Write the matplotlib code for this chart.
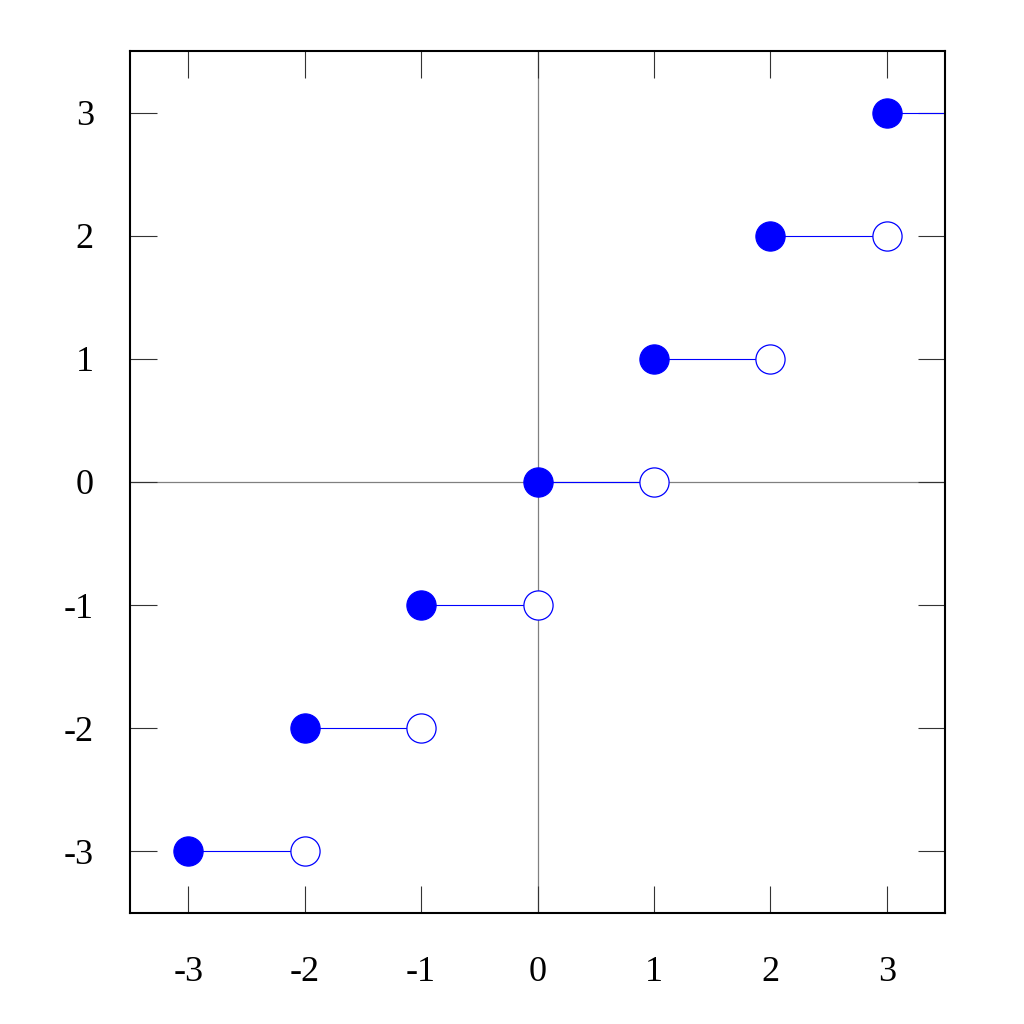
import matplotlib
matplotlib.use("Agg")
import matplotlib.pyplot as plt
import numpy as np

# Floor function steps
step_starts = [-3, -2, -1, 0, 1, 2, 3]
step_ends = [-2, -1, 0, 1, 2, 3, 4]
step_values = [-3, -2, -1, 0, 1, 2, 3]
x_ticks = [-3, -2, -1, 0, 1, 2, 3]
y_ticks = [-3, -2, -1, 0, 1, 2, 3]

plt.rcParams['font.family'] = ['Liberation Serif', 'DejaVu Serif']

fig = plt.figure(figsize=(10.24, 10.24), dpi=100)
ax = fig.add_axes([130/1024, 1 - 913/1024, (945 - 130)/1024, (913 - 51)/1024])
ax.set_xlim(-3.5, 3.5)
ax.set_ylim(-3.5, 3.5)

ax.axhline(0, color='#808080', lw=0.9, zorder=1)
ax.axvline(0, color='#808080', lw=0.9, zorder=1)

blue = '#0000ff'
for xs, xe, v in zip(step_starts, step_ends, step_values):
    ax.plot([xs, xe], [v, v], color=blue, lw=0.8, zorder=2)
    ax.plot([xe], [v], marker='o', ms=21, mfc='white', mec=blue, mew=0.9,
            zorder=3, clip_on=True)
    ax.plot([xs], [v], marker='o', ms=21, mfc=blue, mec=blue, mew=0.9,
            zorder=4, clip_on=False)

ax.set_xticks(x_ticks)
ax.set_yticks(y_ticks)
ax.set_xticklabels([str(t) for t in x_ticks])
ax.set_yticklabels([str(t) for t in y_ticks])
ax.tick_params(axis='both', which='major', direction='in', length=19.5, width=0.8,
               color='#333333', top=True, right=True, labelsize=26)
ax.tick_params(axis='x', pad=31)
ax.tick_params(axis='y', pad=26)
for s in ax.spines.values():
    s.set_linewidth(1.5)
    s.set_color('black')

fig.savefig('out.png', dpi=100)
